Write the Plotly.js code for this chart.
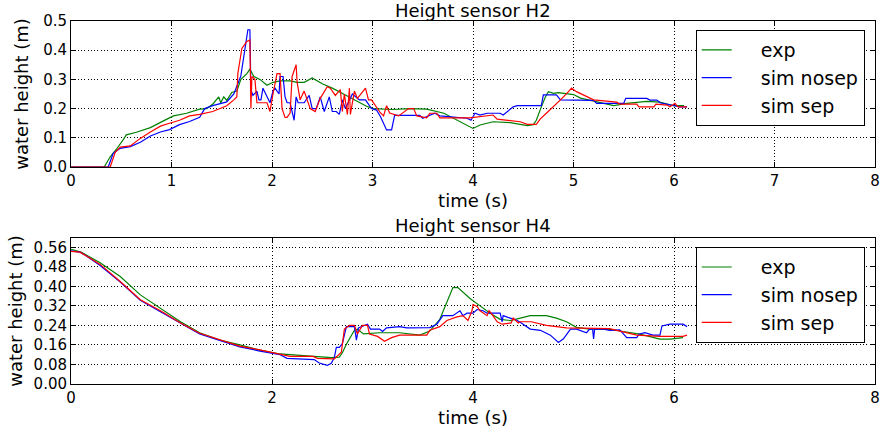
<!DOCTYPE html>
<html>
<head>
<meta charset="utf-8">
<script src="https://cdn.plot.ly/plotly-3.0.1.min.js"></script>
<style>html,body{margin:0;padding:0;background:#fff;}#chart{width:881px;height:432px;}</style>
</head>
<body>
<div id="chart"></div>
<script>
// ---------- Height sensor H2 ----------
var h2ExpT = [0,0.33,0.39,0.45,0.52,0.55,0.65,0.79,0.92,1.02, 1.15,1.28,1.35,1.41,1.47,1.49,1.52,1.55,1.6,1.65, 1.69,1.75,1.78,1.82,1.88,1.92,1.95,2.01,2.08,2.18, 2.25,2.32,2.4,2.5,2.6,2.74,2.94,3.01,3.2,3.37, 3.54,3.71,3.87,4.0,4.07,4.2,4.37,4.54,4.6,4.63, 4.68,4.72,4.75,4.8,4.85,4.93,5.0,5.07,5.2,5.4, 5.53,5.73,5.86,5.99,6.1];
var h2Exp = [0,0,0.035,0.06,0.094,0.11,0.119,0.135,0.158,0.175, 0.184,0.198,0.2,0.215,0.24,0.22,0.24,0.228,0.255,0.26, 0.3,0.32,0.335,0.31,0.3,0.29,0.28,0.29,0.295,0.295, 0.29,0.29,0.305,0.285,0.27,0.245,0.208,0.2,0.197,0.2, 0.198,0.184,0.155,0.132,0.144,0.155,0.152,0.142,0.145,0.16, 0.206,0.24,0.258,0.252,0.255,0.252,0.248,0.236,0.225,0.21, 0.218,0.225,0.222,0.21,0.21];

var h2NosepT = [0,0.37,0.42,0.49,0.59,0.69,0.79,0.89,0.98,1.08, 1.18,1.28,1.33,1.41,1.55,1.62,1.69,1.74,1.76,1.78, 1.79,1.81,1.85,1.87,1.89,1.91,1.94,1.98,2.01,2.03, 2.07,2.08,2.11,2.13,2.15,2.18,2.22,2.24,2.26,2.32, 2.37,2.4,2.44,2.48,2.52,2.57,2.6,2.64,2.67,2.7, 2.73,2.8,2.87,2.93,2.99,3.04,3.08,3.14,3.19,3.22, 3.47,3.5,3.62,3.67,3.94,3.98,4.02,4.07,4.14,4.27, 4.3,4.4,4.44,4.68,4.7,4.83,4.87,5.2,5.23,5.5, 5.52,5.73,5.76,5.83,5.86,5.99,6.06,6.13];
var h2Nosep = [0,0,0.047,0.064,0.07,0.085,0.106,0.12,0.128,0.145, 0.156,0.17,0.2,0.21,0.223,0.25,0.312,0.435,0.47,0.47, 0.265,0.245,0.26,0.23,0.23,0.27,0.25,0.22,0.26,0.27, 0.25,0.31,0.31,0.24,0.22,0.22,0.16,0.24,0.22,0.22, 0.245,0.2,0.2,0.24,0.19,0.24,0.19,0.19,0.18,0.23, 0.2,0.25,0.23,0.23,0.2,0.195,0.172,0.127,0.127,0.177, 0.177,0.167,0.184,0.175,0.167,0.16,0.184,0.178,0.184,0.184, 0.178,0.206,0.21,0.21,0.247,0.247,0.23,0.228,0.218,0.218, 0.235,0.235,0.229,0.229,0.22,0.212,0.206,0.206];

var h2SepT = [0,0.39,0.44,0.49,0.59,0.69,0.79,0.89,0.98,1.08, 1.18,1.28,1.41,1.55,1.62,1.65,1.66,1.7,1.75,1.78, 1.79,1.8,1.83,1.85,1.95,1.98,2.01,2.05,2.08,2.1, 2.13,2.15,2.18,2.2,2.24,2.25,2.28,2.32,2.38,2.43, 2.48,2.55,2.58,2.63,2.68,2.7,2.72,2.75,2.77,2.78, 2.82,2.85,2.93,2.96,2.99,3.03,3.08,3.11,3.14,3.17, 3.26,3.36,3.41,3.44,3.54,3.57,3.64,3.67,3.97,4.2, 4.24,4.47,4.54,4.63,4.67,4.73,4.8,4.87,4.95,4.98, 5.03,5.13,5.2,5.43,5.46,5.63,5.65,5.8,5.82,5.93, 5.96,6.01,6.04,6.13];
var h2Sep = [0,0,0.05,0.068,0.072,0.098,0.12,0.14,0.15,0.16, 0.175,0.18,0.19,0.21,0.23,0.24,0.32,0.406,0.43,0.435, 0.2,0.31,0.3,0.22,0.22,0.19,0.25,0.32,0.32,0.2, 0.17,0.17,0.185,0.31,0.35,0.29,0.23,0.26,0.2,0.19, 0.235,0.275,0.27,0.245,0.265,0.19,0.25,0.18,0.27,0.18, 0.26,0.235,0.27,0.23,0.23,0.21,0.185,0.175,0.21,0.185, 0.175,0.2,0.2,0.175,0.168,0.184,0.184,0.168,0.168,0.178, 0.164,0.155,0.146,0.146,0.165,0.184,0.206,0.23,0.258,0.27, 0.258,0.24,0.23,0.222,0.215,0.215,0.206,0.206,0.215,0.212, 0.206,0.218,0.206,0.206];

// ---------- Height sensor H4 ----------
var h4ExpT = [0,0.1,0.29,0.49,0.69,0.89,1.09,1.28,1.48,1.68, 1.88,2.08,2.34,2.59,2.67,2.7,2.74,2.79,2.82,2.85, 2.91,3.07,3.27,3.47,3.57,3.67,3.74,3.8,3.85,3.9, 3.97,4.07,4.17,4.27,4.37,4.47,4.57,4.73,4.83,4.93, 5.03,5.16,5.36,5.46,5.66,5.86,5.96,6.09];
var h4Exp = [0.552,0.54,0.497,0.44,0.365,0.31,0.255,0.21,0.18,0.16, 0.139,0.123,0.115,0.108,0.11,0.128,0.163,0.2,0.22,0.225, 0.205,0.21,0.21,0.2,0.217,0.265,0.333,0.395,0.395,0.375, 0.35,0.32,0.29,0.265,0.26,0.27,0.28,0.28,0.27,0.255, 0.232,0.225,0.224,0.217,0.204,0.184,0.184,0.19];

var h4NosepT = [0,0.09,0.15,0.29,0.49,0.69,0.89,1.09,1.28,1.48, 1.68,1.88,2.08,2.15,2.42,2.47,2.55,2.59,2.62,2.64, 2.67,2.7,2.74,2.82,2.84,2.86,2.91,2.95,2.98,3.07, 3.1,3.14,3.27,3.34,3.57,3.64,3.7,3.8,3.87,3.9, 3.94,4.0,4.04,4.1,4.14,4.27,4.29,4.3,4.37,4.44, 4.48,4.57,4.67,4.77,4.85,4.9,4.97,5.03,5.13,5.16, 5.19,5.2,5.21,5.3,5.36,5.46,5.53,5.63,5.65,5.71, 5.79,5.86,5.88,5.96,6.09,6.13];
var h4Nosep = [0.545,0.54,0.525,0.485,0.418,0.343,0.296,0.248,0.205,0.178, 0.152,0.135,0.12,0.105,0.1,0.086,0.076,0.085,0.108,0.15, 0.15,0.165,0.235,0.235,0.18,0.23,0.24,0.245,0.225,0.225, 0.215,0.23,0.235,0.23,0.231,0.245,0.28,0.28,0.3,0.28, 0.29,0.29,0.305,0.3,0.29,0.29,0.255,0.28,0.27,0.26, 0.25,0.225,0.22,0.2,0.17,0.185,0.225,0.225,0.21,0.225, 0.225,0.185,0.225,0.225,0.22,0.222,0.19,0.19,0.204,0.21, 0.2,0.2,0.238,0.245,0.245,0.235];

var h4SepT = [0,0.09,0.15,0.29,0.49,0.69,0.89,1.09,1.28,1.48, 1.68,1.88,2.08,2.18,2.41,2.45,2.62,2.65,2.69,2.72, 2.77,2.82,2.85,2.9,2.95,2.97,3.05,3.12,3.19,3.27, 3.54,3.57,3.67,3.74,3.84,3.9,3.95,3.99,4.0,4.04, 4.07,4.14,4.16,4.19,4.24,4.29,4.38,4.4,4.45,4.47, 4.58,4.73,4.93,5.36,5.53,5.63,5.86,6.09,6.13];
var h4Sep = [0.543,0.54,0.525,0.49,0.42,0.345,0.3,0.25,0.208,0.18, 0.155,0.14,0.12,0.113,0.113,0.105,0.103,0.115,0.13,0.225, 0.24,0.24,0.205,0.24,0.24,0.205,0.195,0.175,0.19,0.2, 0.2,0.22,0.235,0.26,0.275,0.28,0.26,0.3,0.325,0.318, 0.3,0.28,0.3,0.285,0.255,0.245,0.25,0.27,0.25,0.255, 0.255,0.24,0.23,0.227,0.21,0.2,0.195,0.195,0.2];

var seriesNames = ['exp', 'sim nosep', 'sim sep'];
var seriesColors = ['#008000', '#0000ff', '#ff0000'];
var panelTitles = ['Height sensor H2', 'Height sensor H4'];
var xLabel = 'time (s)';
var yLabel = 'water height (m)';

var FONT = 'DejaVu Sans, Liberation Sans, sans-serif';
var PAD = '\u00a0\u00a0\u00a0\u00a0';

function tr(x, y, i, xa, ya, leg) {
  return {
    type: 'scatter', mode: 'lines', x: x, y: y,
    name: PAD + seriesNames[i], xaxis: xa, yaxis: ya, legend: leg,
    line: {color: seriesColors[i], width: 1.2},
    hoverinfo: 'skip'
  };
}

var data = [
  tr(h2ExpT, h2Exp, 0, 'x', 'y', 'legend'),
  tr(h2NosepT, h2Nosep, 1, 'x', 'y', 'legend'),
  tr(h2SepT, h2Sep, 2, 'x', 'y', 'legend'),
  tr(h4ExpT, h4Exp, 0, 'x2', 'y2', 'legend2'),
  tr(h4NosepT, h4Nosep, 1, 'x2', 'y2', 'legend2'),
  tr(h4SepT, h4Sep, 2, 'x2', 'y2', 'legend2')
];

function axisBase() {
  return {
    showgrid: true, gridcolor: '#000', griddash: '1px,2.3px', gridwidth: 1,
    showline: true, linecolor: '#000', linewidth: 1, mirror: 'ticks',
    ticks: 'inside', ticklen: 5, tickcolor: '#000', tickwidth: 1,
    zeroline: false,
    tickfont: {family: FONT, size: 15, color: '#000'}
  };
}

var xa = Object.assign(axisBase(), {domain: [0, 1], anchor: 'y', range: [0, 8], tick0: 0, dtick: 1,
  title: {text: xLabel, font: {family: FONT, size: 18, color: '#000'}, standoff: 4}});
var ya = Object.assign(axisBase(), {domain: [0.5978, 1], anchor: 'x', range: [0, 0.5], tick0: 0, dtick: 0.1, tickformat: '.1f',
  title: {text: yLabel, font: {family: FONT, size: 18, color: '#000'}, standoff: 9}});
var xa2 = Object.assign(axisBase(), {domain: [0, 1], anchor: 'y2', range: [0, 8], tick0: 0, dtick: 2,
  title: {text: xLabel, font: {family: FONT, size: 18, color: '#000'}, standoff: 4}});
var ya2 = Object.assign(axisBase(), {domain: [0, 0.4022], anchor: 'x2', range: [0, 0.598], tick0: 0, dtick: 0.08, tickformat: '.2f',
  title: {text: yLabel, font: {family: FONT, size: 18, color: '#000'}, standoff: 6}});

function legendCfg(ytop) {
  return {
    x: 0.777, y: ytop, xanchor: 'left', yanchor: 'top',
    bgcolor: '#fff', bordercolor: '#000', borderwidth: 1,
    font: {family: FONT, size: 19, color: '#000'},
    itemwidth: 30, tracegroupgap: 0
  };
}

var layout = {
  width: 881, height: 432,
  margin: {l: 71, r: 6, t: 21, b: 48},
  paper_bgcolor: '#fff', plot_bgcolor: '#fff',
  font: {family: FONT, color: '#000'},
  showlegend: true,
  xaxis: xa, yaxis: ya, xaxis2: xa2, yaxis2: ya2,
  legend: legendCfg(0.975),
  legend2: legendCfg(0.377),
  annotations: [
    {text: panelTitles[0], xref: 'paper', yref: 'paper', x: 0.5, y: 1.0303, xanchor: 'center', yanchor: 'middle', showarrow: false,
     font: {family: FONT, size: 18, color: '#000'}},
    {text: panelTitles[1], xref: 'paper', yref: 'paper', x: 0.5, y: 0.4353, xanchor: 'center', yanchor: 'middle', showarrow: false,
     font: {family: FONT, size: 18, color: '#000'}}
  ]
};

Plotly.newPlot('chart', data, layout, {staticPlot: true, displayModeBar: false});
</script>
</body>
</html>
